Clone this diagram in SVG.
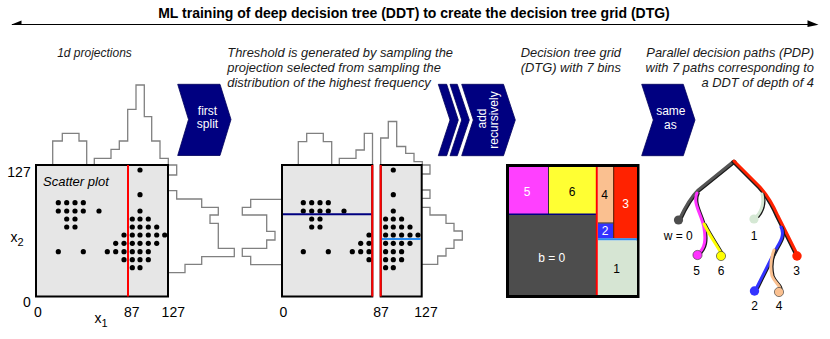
<svg xmlns="http://www.w3.org/2000/svg" xmlns:xlink="http://www.w3.org/1999/xlink" width="830" height="339" viewBox="0 0 830 339">
<style>
.hist{fill:none;stroke:#808080;stroke-width:1.3}
.box{fill:#e6e6e6;stroke:#000;stroke-width:2}
.split{stroke:#ff0000;stroke-width:2}
.chev{fill:#000080;stroke:#00005a;stroke-width:0.8}
.ct{font-family:"Liberation Sans",Arial,sans-serif;font-size:12px;fill:#ffffff;text-anchor:middle}
.cap{font-family:"Liberation Sans",Arial,sans-serif;font-size:12.9px;font-style:italic;fill:#1a1a1a}
.ax{font-family:"Liberation Sans",Arial,sans-serif;font-size:14px;fill:#000}
.lbl{font-family:"Liberation Sans",Arial,sans-serif;font-size:12px;text-anchor:middle}
.dot{fill:#000}
.sh{fill:none;stroke:#1a1a1a;stroke-width:3;stroke-linecap:round}
.br{fill:none;stroke-width:3;stroke-linecap:round}
</style>
<defs>
<g id="dotsL">
<circle class="dot" cx="58.3" cy="202.7" r="2.6"/><circle class="dot" cx="66.7" cy="202.7" r="2.6"/><circle class="dot" cx="75" cy="202.7" r="2.6"/><circle class="dot" cx="83.3" cy="202.7" r="2.6"/>
<circle class="dot" cx="58.3" cy="211" r="2.6"/><circle class="dot" cx="66.7" cy="211" r="2.6"/><circle class="dot" cx="75" cy="211" r="2.6"/><circle class="dot" cx="83.3" cy="211" r="2.6"/><circle class="dot" cx="99" cy="211" r="2.6"/>
<circle class="dot" cx="66.7" cy="219" r="2.6"/><circle class="dot" cx="75" cy="219" r="2.6"/>
<circle class="dot" cx="66.7" cy="227" r="2.6"/><circle class="dot" cx="75" cy="227" r="2.6"/>
<circle class="dot" cx="124" cy="235" r="2.6"/>
<circle class="dot" cx="115.7" cy="243.3" r="2.6"/><circle class="dot" cx="124" cy="243.3" r="2.6"/>
<circle class="dot" cx="58.3" cy="251.7" r="2.6"/><circle class="dot" cx="83.3" cy="251.7" r="2.6"/><circle class="dot" cx="107.3" cy="251.7" r="2.6"/><circle class="dot" cx="115.7" cy="251.7" r="2.6"/><circle class="dot" cx="124" cy="251.7" r="2.6"/>
<circle class="dot" cx="124" cy="259.7" r="2.6"/>
</g>
<g id="dotsR">
<circle class="dot" cx="140" cy="170" r="2.6"/><circle class="dot" cx="140" cy="194.7" r="2.6"/><circle class="dot" cx="140" cy="211" r="2.6"/>
<circle class="dot" cx="132.3" cy="219" r="2.6"/><circle class="dot" cx="140" cy="219" r="2.6"/><circle class="dot" cx="148.3" cy="219" r="2.6"/>
<circle class="dot" cx="132.3" cy="227" r="2.6"/><circle class="dot" cx="140" cy="227" r="2.6"/><circle class="dot" cx="148.3" cy="227" r="2.6"/><circle class="dot" cx="156.7" cy="227" r="2.6"/>
<circle class="dot" cx="132.3" cy="235" r="2.6"/><circle class="dot" cx="140" cy="235" r="2.6"/><circle class="dot" cx="148.3" cy="235" r="2.6"/><circle class="dot" cx="156.7" cy="235" r="2.6"/><circle class="dot" cx="164.7" cy="235" r="2.6"/>
<circle class="dot" cx="132.3" cy="243.3" r="2.6"/><circle class="dot" cx="140" cy="243.3" r="2.6"/><circle class="dot" cx="148.3" cy="243.3" r="2.6"/><circle class="dot" cx="156.7" cy="243.3" r="2.6"/>
<circle class="dot" cx="132.3" cy="251.7" r="2.6"/><circle class="dot" cx="140" cy="251.7" r="2.6"/><circle class="dot" cx="148.3" cy="251.7" r="2.6"/>
<circle class="dot" cx="132.3" cy="259.7" r="2.6"/><circle class="dot" cx="140" cy="259.7" r="2.6"/><circle class="dot" cx="148.3" cy="259.7" r="2.6"/>
<circle class="dot" cx="132.3" cy="267.7" r="2.6"/><circle class="dot" cx="140" cy="267.7" r="2.6"/>
</g>
</defs>
<rect width="830" height="339" fill="#fff"/>

<g id="title">
<text x="414" y="18.3" font-family="'Liberation Sans',Arial,sans-serif" font-size="14" font-weight="bold" text-anchor="middle">ML training of deep decision tree (DDT) to create the decision tree grid (DTG)</text>
</g>

<g id="connectors">
<line x1="12" y1="24.5" x2="816" y2="24.5" stroke="#000" stroke-width="1.2"/>
<polygon points="11,24.8 21.5,20.5 21.5,24.8" fill="#000"/>
<polygon points="818.5,24.8 807.5,20.3 807.5,27" fill="#000"/>
</g>

<g id="projections-caption">
<text class="cap" x="94.5" y="57" text-anchor="middle" style="font-size:12px">1d projections</text>
</g>

<g id="panel1">
<path class="hist" d="M52.7,165 V141 H62.3 V133.3 H79 V141 H86.7 V165"/>
<path class="hist" d="M94.3,165 V158.3 H111 V149.3 H119.3 V141 H127.7 V109.3 H136 V85 H144.3 V116.7 H151.7 V141 H160 V158.3 H168.3 V165"/>
<path class="hist" d="M168,165 H176.7 V175 H168"/>
<path class="hist" d="M168,190.7 H176.7 V199 H201.7 V207.3 H218.3 V215 H210 V223.3 H218.3 V248.3 H234.3 V256.7 H201.7 V264.3 H185 V272.7 H168"/>
<rect class="box" x="36" y="165" width="132" height="131.5"/>
<use xlink:href="#dotsL"/>
<use xlink:href="#dotsR"/>
<line class="split" x1="128" y1="165" x2="128" y2="296.5"/>
<text x="43" y="186" font-family="'Liberation Sans',Arial,sans-serif" font-size="13" font-style="italic">Scatter plot</text>
<text class="ax" x="30.7" y="176.7" text-anchor="end">127</text>
<text class="ax" x="10.5" y="241.7">x<tspan font-size="11" dy="4.5">2</tspan></text>
<text class="ax" x="30.7" y="306.7" text-anchor="end">0</text>
<text class="ax" x="38" y="316.7" text-anchor="middle">0</text>
<text class="ax" x="131.7" y="316.7" text-anchor="middle">87</text>
<text class="ax" x="173.3" y="316.7" text-anchor="middle">127</text>
<text class="ax" x="94.5" y="323">x<tspan font-size="11" dy="4">1</tspan></text>
</g>

<g id="chevron-first-split">
<polygon class="chev" points="177.7,84.3 220,84.3 231,119.5 220,155.5 177.7,155.5 188.5,119.5"/>
<text class="ct" x="207.5" y="115">first</text>
<text class="ct" x="207.5" y="128">split</text>
</g>

<g id="threshold-caption">
<text class="cap" x="227.3" y="57">Threshold is generated by sampling the</text>
<text class="cap" x="227.3" y="72">projection selected from sampling the</text>
<text class="cap" x="227.3" y="87">distribution of the highest frequency</text>
</g>

<g id="panel2">
<path class="hist" d="M298.3,165 V141.7 H306.7 V133.3 H323.3 V141.7 H331.7 V165"/>
<path class="hist" d="M339.3,165 V158.3 H356 V150 H364.3 V133.3 H372.5 V165"/>
<path class="hist" d="M380.7,165 V138 H388.3 V121.5 H396.7 V146.5 H405.7 V153.3 H414 V161.7 H422.3 V165"/>
<path class="hist" d="M282,199.3 H250.7 V207.3 H242.3 V215 H266.7 V231.3 H275 V240 H266.7 V248.3 H242.3 V256.3 H250.7 V264.7 H282"/>
<path class="hist" d="M421.7,165 H430 V174 H421.7"/>
<path class="hist" d="M421.7,190 H430 V198.3 H421.7"/>
<path class="hist" d="M421.7,207.3 H430 V215 H446 V223.3 H454 V231 H462.3 V240 H454 V248.3 H446 V256 H437.7 V264.3 H421.7"/>
<rect class="box" x="282" y="165" width="90.3" height="131.5"/>
<rect class="box" x="380.7" y="165" width="41" height="131.5"/>
<use xlink:href="#dotsL" transform="translate(245,0)"/>
<use xlink:href="#dotsR" transform="translate(253.3,0)"/>
<line x1="283" y1="214.3" x2="371.5" y2="214.3" stroke="#000080" stroke-width="2"/>
<line x1="381.5" y1="239" x2="420.7" y2="239" stroke="#2a8cf0" stroke-width="2.2"/>
<line class="split" x1="372.3" y1="165" x2="372.3" y2="296.5"/>
<line class="split" x1="380.7" y1="165" x2="380.7" y2="296.5"/>
<text class="ax" x="283.3" y="316.7" text-anchor="middle">0</text>
<text class="ax" x="381" y="316.7" text-anchor="middle">87</text>
<text class="ax" x="426" y="316.7" text-anchor="middle">127</text>
</g>

<g id="chevron-add-recursively">
<polygon class="chev" points="438.3,84.3 446.7,84.3 458.3,120 446.7,155.7 438.3,155.7 450,120"/>
<polygon class="chev" points="450,84.3 457.3,84.3 469.3,120 457.3,155.7 450,155.7 461.7,120"/>
<polygon class="chev" points="461.7,84.3 503.5,84.3 515.3,120 503.5,155.7 461.7,155.7 473.3,120"/>
<text class="ct" transform="translate(485.5,118.5) rotate(-90)">add</text>
<text class="ct" transform="translate(497.5,120) rotate(-90)">recursively</text>
</g>

<g id="dtg-caption">
<text class="cap" x="520.7" y="57">Decision tree grid</text>
<text class="cap" x="520.7" y="72">(DTG) with 7 bins</text>
</g>

<g id="dtg">
<rect x="507.5" y="165.5" width="130.5" height="131" fill="#fff" stroke="#000" stroke-width="3"/>
<rect x="509" y="167" width="39.5" height="47" fill="#ff40ff"/>
<rect x="548.5" y="167" width="47.5" height="47" fill="#ffff33"/>
<line x1="548.5" y1="167" x2="548.5" y2="214" stroke="#333" stroke-width="1"/>
<rect x="509" y="214.5" width="87" height="80.5" fill="#4d4d4d"/>
<line x1="509" y1="214.3" x2="596" y2="214.3" stroke="#000080" stroke-width="1.6"/>
<rect x="598" y="167" width="15.5" height="56" fill="#fac090"/>
<rect x="598" y="223.3" width="15.5" height="15.2" fill="#3333ff"/>
<rect x="613.5" y="167" width="23.5" height="71.5" fill="#ff2200"/>
<line x1="613.7" y1="167" x2="613.7" y2="238" stroke="#4a1a00" stroke-width="1"/>
<line x1="598" y1="223" x2="613.5" y2="223" stroke="#222" stroke-width="1"/>
<rect x="598" y="240.3" width="39" height="54.7" fill="#d6e5d3"/>
<line x1="598" y1="239.3" x2="637" y2="239.3" stroke="#2a8cf0" stroke-width="2"/>
<line x1="596.8" y1="167" x2="596.8" y2="295" stroke="#ff0000" stroke-width="2"/>
<text class="lbl" x="527" y="196" fill="#fff">5</text>
<text class="lbl" x="572" y="196" fill="#000">6</text>
<text class="lbl" x="604.7" y="199.3" fill="#000">4</text>
<text class="lbl" x="625.7" y="207.7" fill="#fff">3</text>
<text class="lbl" x="605" y="235" fill="#fff">2</text>
<text class="lbl" x="551.7" y="261.7" fill="#fff">b = 0</text>
<text class="lbl" x="616.7" y="272.7" fill="#000">1</text>
</g>

<g id="chevron-same-as">
<polygon class="chev" points="641.7,84.3 683.3,84.3 695,120 683.3,155.7 641.7,155.7 653.3,120"/>
<text class="ct" x="670.8" y="115">same</text>
<text class="ct" x="670.3" y="129">as</text>
</g>

<g id="pdp-caption">
<text class="cap" x="814" y="57" text-anchor="end">Parallel decision paths (PDP)</text>
<text class="cap" x="814" y="72" text-anchor="end">with 7 paths corresponding to</text>
<text class="cap" x="814" y="87" text-anchor="end">a DDT of depth of 4</text>
</g>

<g id="pdp-tree">
<path class="sh" d="M734,161 L698,190 C692,196 686,205 680,218" transform="translate(1,0.8)"/>
<path class="br" stroke="#555555" d="M734,161 L698,190 C692,196 686,205 680,218"/>
<circle cx="678.5" cy="220" r="4.6" fill="#4d4d4d"/>

<path class="sh" d="M697,193 C692,203 702,215 704,228 C706,240 705,248 698,254" transform="translate(1.2,0.5)"/>
<path class="br" stroke="#ff33ff" d="M697,193 C692,203 702,215 704,228 C706,240 705,248 698,254"/>
<path class="sh" d="M704,224 C710,236 716,244 721,253" transform="translate(1.2,0.5)"/>
<path class="br" stroke="#ffff00" d="M704,224 C710,236 716,244 721,253"/>
<circle cx="697.5" cy="255" r="4.6" fill="#ff33ff" stroke="#333" stroke-width="0.6"/>
<circle cx="721" cy="256" r="4.6" fill="#ffff00" stroke="#333" stroke-width="0.6"/>

<path class="sh" d="M734,161 L760,187 Q770,198 778,216 L797,254" transform="translate(-1.2,0.8)"/>
<path class="br" stroke="#ff2200" d="M734,161 L760,187 Q770,198 778,216 L797,254"/>
<circle cx="797" cy="256" r="4.7" fill="#ff2200"/>

<path class="sh" d="M762,194 C764,202 762,210 757,216" transform="translate(1.2,0.5)"/>
<path class="br" stroke="#d5e8d4" d="M762,194 C764,202 762,210 757,216"/>
<circle cx="754" cy="219" r="4.6" fill="#d5e8d4"/>

<path class="sh" d="M781,227 C785,235 780,242 776,249 L757,287" transform="translate(1,0.5)"/>
<path class="br" stroke="#3333ff" d="M781,227 C785,235 780,242 776,249 L757,287"/>
<circle cx="754.5" cy="291" r="4.7" fill="#3333ff"/>

<path class="sh" d="M774,250 C771,258 770,268 772,276 C775,283 780,285 780,289" transform="translate(1.2,0.3)"/>
<path class="br" stroke="#fac090" d="M774,250 C771,258 770,268 772,276 C775,283 780,285 780,289"/>
<circle cx="779" cy="292" r="4.6" fill="#fac090" stroke="#333" stroke-width="0.6"/>

<text class="lbl" x="678.3" y="240">w = 0</text>
<text class="lbl" x="754" y="240">1</text>
<text class="lbl" x="696.7" y="275">5</text>
<text class="lbl" x="721" y="275">6</text>
<text class="lbl" x="796.7" y="275">3</text>
<text class="lbl" x="754.7" y="310">2</text>
<text class="lbl" x="779" y="310">4</text>
</g>
</svg>
